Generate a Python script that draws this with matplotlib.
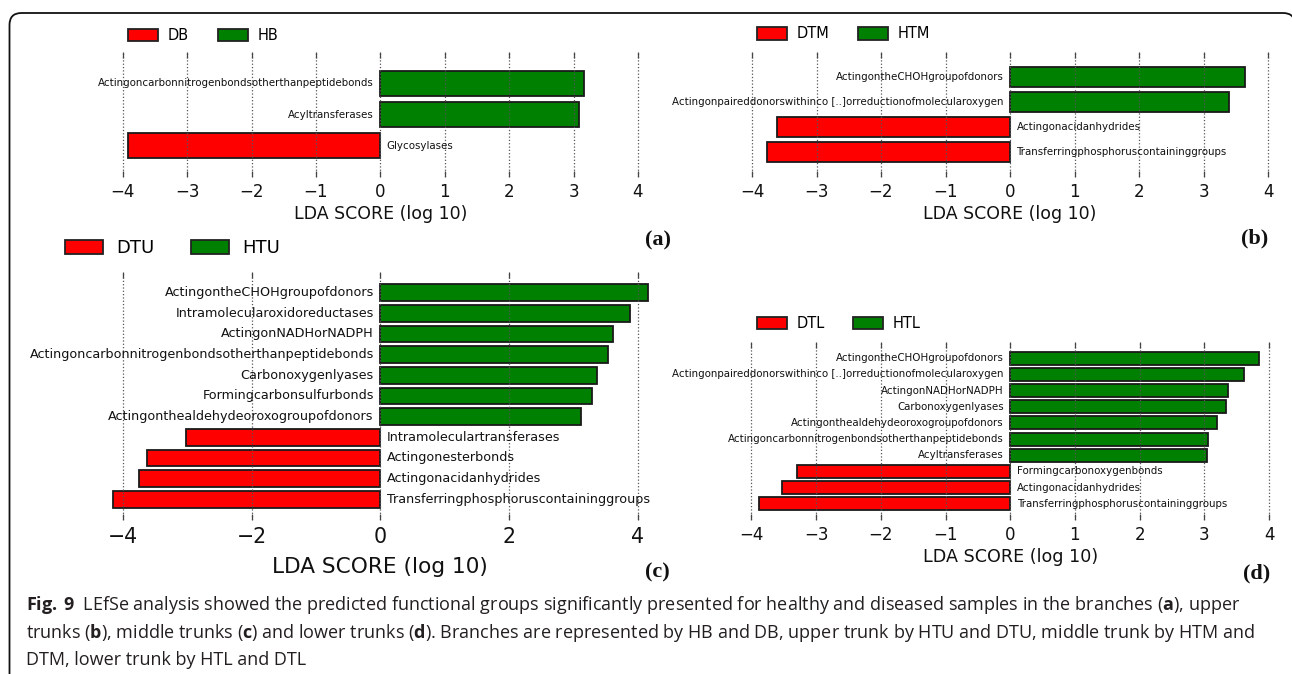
import matplotlib
matplotlib.use("Agg")
import matplotlib.pyplot as plt
from matplotlib.patches import Patch, PathPatch
from matplotlib.path import Path

# ---------------- data ----------------
a_labels = ["Actingoncarbonnitrogenbondsotherthanpeptidebonds", "Acyltransferases", "Glycosylases"]
a_values = [3.16, 3.09, -3.91]
a_groups = ["DB", "HB"]

b_labels = ["ActingontheCHOHgroupofdonors",
            "Actingonpaireddonorswithinco [..]orreductionofmolecularoxygen",
            "Actingonacidanhydrides",
            "Transferringphosphoruscontaininggroups"]
b_values = [3.65, 3.39, -3.62, -3.77]
b_groups = ["DTM", "HTM"]

c_labels = ["ActingontheCHOHgroupofdonors", "Intramolecularoxidoreductases",
            "ActingonNADHorNADPH", "Actingoncarbonnitrogenbondsotherthanpeptidebonds",
            "Carbonoxygenlyases", "Formingcarbonsulfurbonds",
            "Actingonthealdehydeoroxogroupofdonors", "Intramoleculartransferases",
            "Actingonesterbonds", "Actingonacidanhydrides",
            "Transferringphosphoruscontaininggroups"]
c_values = [4.15, 3.87, 3.62, 3.54, 3.36, 3.29, 3.12, -3.02, -3.63, -3.74, -4.15]
c_groups = ["DTU", "HTU"]

d_labels = ["ActingontheCHOHgroupofdonors",
            "Actingonpaireddonorswithinco [..]orreductionofmolecularoxygen",
            "ActingonNADHorNADPH", "Carbonoxygenlyases",
            "Actingonthealdehydeoroxogroupofdonors",
            "Actingoncarbonnitrogenbondsotherthanpeptidebonds",
            "Acyltransferases", "Formingcarbonoxygenbonds",
            "Actingonacidanhydrides", "Transferringphosphoruscontaininggroups"]
d_values = [3.85, 3.62, 3.37, 3.34, 3.19, 3.06, 3.04, -3.30, -3.52, -3.88]
d_groups = ["DTL", "HTL"]

xlabel_text = "LDA SCORE (log 10)"
panel_tags = ["(a)", "(b)", "(c)", "(d)"]

caption_lines = [
    r"$\mathbf{Fig.\,9}$  LEfSe analysis showed the predicted functional groups significantly presented for healthy and diseased samples in the branches ($\mathbf{a}$), upper",
    r"trunks ($\mathbf{b}$), middle trunks ($\mathbf{c}$) and lower trunks ($\mathbf{d}$). Branches are represented by HB and DB, upper trunk by HTU and DTU, middle trunk by HTM and",
    "DTM, lower trunk by HTL and DTL",
]

RED = "#ff0000"
GREEN = "#008000"

plt.rcParams["mathtext.fontset"] = "custom"
plt.rcParams["mathtext.rm"] = "Open Sans"
plt.rcParams["mathtext.bf"] = "Open Sans:bold"

W, H = 1292, 674
fig = plt.figure(figsize=(W / 100, H / 100), dpi=100)
renderer = fig.canvas.get_renderer()


def text_width(s, size, **kw):
    t = fig.text(0, 0, s, size=size, **kw)
    w = t.get_window_extent(renderer).width
    t.remove()
    return w


def fit_size(s, target_px, **kw):
    return 10.0 * target_px / text_width(s, 10.0, **kw)


def fx(px):
    return px / W


def fy(py):
    return 1 - py / H


# frame: left edge, rounded top-left corner, top edge, rounded top-right corner
fl, ft, fr, rad = 9.5, 13.0, 1295.0, 12.0
verts_px = [(fl, H + 5), (fl, ft + rad), (fl, ft), (fl + rad, ft),
            (fr - rad, ft), (fr, ft), (fr, ft + rad), (fr, 60)]
codes = [Path.MOVETO, Path.LINETO, Path.CURVE3, Path.CURVE3,
         Path.LINETO, Path.CURVE3, Path.CURVE3, Path.LINETO]
frame = PathPatch(Path([(fx(x), fy(y)) for x, y in verts_px], codes),
                  transform=fig.transFigure, fill=False, lw=1.3,
                  edgecolor="#111111")
fig.patches.append(frame)


def panel(labels, values, groups, zero_px, unit_px, top, bottom,
          ticks, label_target, long_label, tick_size, xlabel_target,
          xlabel_center, legend_cfg, tick_pad):
    xlim = (-4.25, 4.25)
    left = zero_px + xlim[0] * unit_px
    right = zero_px + xlim[1] * unit_px
    ax = fig.add_axes([fx(left), fy(bottom), fx(right - left), (bottom - top) / H])
    n = len(labels)
    ys = [n - 1 - i for i in range(n)]
    colors = [GREEN if v > 0 else RED for v in values]
    ax.barh(ys, values, height=0.8, color=colors, edgecolor="#1a1a1a",
            linewidth=1.3, zorder=1)
    lsize = fit_size(long_label, label_target)
    for y, v, lab in zip(ys, values, labels):
        if v > 0:
            ax.text(-0.1, y, lab, ha="right", va="center", fontsize=lsize,
                    color="#111111", zorder=3)
        else:
            ax.text(0.1, y, lab, ha="left", va="center", fontsize=lsize,
                    color="#111111", zorder=3)
    ax.set_xlim(*xlim)
    ax.set_ylim(-1, n)
    ax.set_yticks([])
    ax.set_xticks(ticks)
    for s in ax.spines.values():
        s.set_visible(False)
    ax.set_axisbelow(False)
    ax.grid(axis="x", linestyle=":", color="#555555", linewidth=0.9)
    ax.tick_params(axis="x", direction="in", top=True, bottom=True,
                   length=4, width=0.9, color="#444444",
                   labelsize=tick_size, pad=tick_pad, labelcolor="#111111")
    xs = fit_size(xlabel_text, xlabel_target)
    ax.set_xlabel(xlabel_text, fontsize=xs, color="#111111")
    ax.xaxis.set_label_coords(0.5, (bottom - xlabel_center) / (bottom - top))
    ax.xaxis.label.set_verticalalignment("center")
    # legend
    lx, ly, lfs, hl, hh, htp, cs = legend_cfg
    handles = [Patch(facecolor=RED, edgecolor="#222222", linewidth=1.3),
               Patch(facecolor=GREEN, edgecolor="#222222", linewidth=1.3)]
    fig.legend(handles, groups, loc="center left",
               bbox_to_anchor=(fx(lx), fy(ly)), ncol=2, frameon=False,
               fontsize=lfs, handlelength=hl, handleheight=hh,
               handletextpad=htp, columnspacing=cs, borderpad=0,
               borderaxespad=0)
    return ax


# (a)
panel(a_labels, a_values, a_groups, 380.3, 64.4, 52, 177,
      [-4, -3, -2, -1, 0, 1, 2, 3, 4], 275, a_labels[0], 12, 173, 214,
      (128, 35.5, 10.5, 2.05, 0.9, 0.7, 1.95), 4)
# (b)
panel(b_labels, b_values, b_groups, 1010.0, 64.5, 52, 177,
      [-4, -3, -2, -1, 0, 1, 2, 3, 4], 168, b_labels[0], 12, 173, 214,
      (757, 34, 10.5, 2.05, 0.9, 0.65, 2.0), 4)
# (c)
panel(c_labels, c_values, c_groups, 380.3, 64.4, 272, 520,
      [-4, -2, 0, 2, 4], 343, c_labels[3], 14.8, 216, 567,
      (65, 248, 13, 2.1, 0.78, 0.75, 2.0), 5)
# (d)
panel(d_labels, d_values, d_groups, 1010.2, 64.7, 342, 520,
      [-4, -3, -2, -1, 0, 1, 2, 3, 4], 276, d_labels[5], 12, 175, 557,
      (757, 323.5, 10.5, 2.05, 0.9, 0.65, 1.95), 4)

# panel tags
for tag, (x, y) in zip(panel_tags, [(658, 240), (1255, 238), (657, 572), (1257, 573)]):
    fig.text(fx(x), fy(y), tag, ha="center", va="center", fontsize=16,
             family="Liberation Serif", fontweight="bold", color="#111111")

# caption
csize = min(fit_size(caption_lines[0], 1229, family="Open Sans"),
            fit_size(caption_lines[1], 1231, family="Open Sans"))
for line, base in zip(caption_lines, [610, 638, 665]):
    fig.text(fx(26), fy(base), line, ha="left", va="baseline",
             fontsize=csize, family="Open Sans", color="#231f20")

fig.savefig("out.png", dpi=100)
